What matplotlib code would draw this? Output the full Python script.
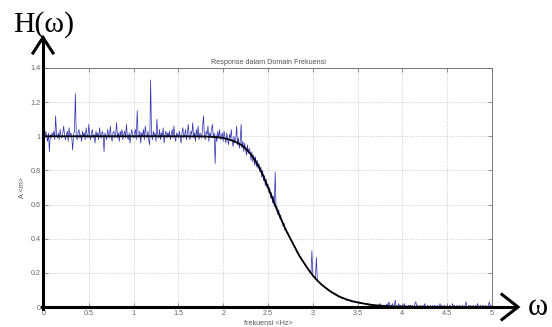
import numpy as np
import matplotlib
matplotlib.use("Agg")
import matplotlib.pyplot as plt
from matplotlib.lines import Line2D

# ---------------- data ----------------
freq_step = 0.01
noisy_amp = [
    1.01, 0.99, 1.03, 1.00, 0.97, 1.02, 0.91, 1.01, 0.99, 1.02,
    1.00, 1.03, 0.98, 1.12, 1.01, 0.99, 1.02, 0.98, 1.04, 1.00,
    0.99, 1.02, 1.06, 1.00, 0.98, 1.01, 1.03, 0.97, 1.05, 1.00,
    1.02, 0.99, 0.92, 1.01, 1.03, 1.25, 1.00, 0.98, 1.02, 1.04,
    0.99, 1.01, 0.97, 1.03, 1.00, 1.02, 0.98, 1.05, 1.01, 0.99,
    1.07, 1.00, 0.98, 1.02, 1.04, 0.99, 1.01, 0.96, 1.03, 1.00,
    1.02, 0.98, 1.05, 1.00, 0.99, 1.03, 1.01, 0.91, 1.02, 1.00,
    0.98, 1.04, 1.01, 0.99, 1.06, 1.00, 0.97, 1.02, 1.03, 0.99,
    1.01, 1.08, 0.99, 1.02, 0.97, 1.03, 1.00, 1.04, 0.98, 1.01,
    1.03, 0.99, 1.07, 1.00, 0.98, 1.02, 0.96, 1.01, 1.04, 1.00,
    0.99, 1.02, 1.04, 0.98, 1.15, 1.01, 0.99, 1.03, 0.96, 1.02,
    1.00, 1.04, 0.98, 1.06, 1.01, 0.99, 1.03, 0.97, 0.95, 1.33,
    1.01, 0.98, 1.03, 1.00, 1.02, 0.97, 1.10, 1.01, 0.99, 1.04,
    0.98, 1.02, 1.00, 1.05, 0.96, 1.01, 1.03, 0.99, 1.02, 1.00,
    1.03, 0.98, 1.01, 1.04, 0.99, 1.06, 1.00, 0.97, 1.02, 1.01,
    0.99, 1.03, 1.00, 0.96, 1.02, 1.05, 0.99, 1.01, 1.04, 0.98,
    1.02, 1.07, 1.00, 0.98, 1.03, 1.01, 1.08, 0.99, 1.02, 0.97,
    1.04, 1.00, 1.06, 0.98, 1.02, 1.01, 0.99, 1.05, 1.12, 1.00,
    0.98, 1.03, 1.01, 1.06, 0.97, 1.02, 1.00, 1.04, 1.07, 0.99,
    1.02, 0.84, 1.01, 0.97, 1.03, 0.99, 1.04, 0.98, 1.00, 1.02,
    0.97, 1.03, 0.99, 0.96, 1.02, 0.98, 0.95, 1.01, 0.99, 1.04,
    0.97, 0.94, 1.00, 0.96, 0.98, 1.06, 0.95, 0.99, 0.93, 0.97,
    1.07, 0.93, 0.97, 0.91, 0.96, 0.92, 0.89, 0.95, 0.90, 0.93,
    0.91, 0.86, 0.91, 0.85, 0.89, 0.83, 0.88, 0.82, 0.86, 0.81,
    0.84, 0.79, 0.82, 0.76, 0.80, 0.74, 0.77, 0.71, 0.75, 0.70,
    0.72, 0.67, 0.70, 0.64, 0.67, 0.61, 0.65, 0.59, 0.79, 0.58,
    0.59, 0.54, 0.57, 0.52, 0.54, 0.50, 0.51, 0.47, 0.49, 0.45,
    0.46, 0.44, 0.44, 0.42, 0.41, 0.40, 0.39, 0.38, 0.37, 0.36,
    0.35, 0.34, 0.32, 0.32, 0.31, 0.30, 0.29, 0.28, 0.27, 0.27,
    0.26, 0.25, 0.24, 0.23, 0.23, 0.22, 0.21, 0.20, 0.20, 0.33,
    0.18, 0.18, 0.17, 0.17, 0.29, 0.16, 0.15, 0.15, 0.14, 0.14,
    0.13, 0.13, 0.12, 0.12, 0.11, 0.11, 0.10, 0.10, 0.10, 0.09,
    0.09, 0.09, 0.08, 0.08, 0.08, 0.07, 0.07, 0.07, 0.06, 0.06,
    0.06, 0.06, 0.05, 0.05, 0.05, 0.05, 0.05, 0.04, 0.04, 0.04,
    0.04, 0.04, 0.04, 0.03, 0.03, 0.03, 0.03, 0.03, 0.03, 0.03,
    0.03, 0.02, 0.03, 0.02, 0.02, 0.02, 0.02, 0.02, 0.02, 0.02,
    0.02, 0.02, 0.01, 0.02, 0.01, 0.01, 0.01, 0.01, 0.01, 0.01,
    0.01, 0.01, 0.01, 0.01, 0.01, 0.02, 0.01, 0.00, 0.01, 0.01,
    0.01, 0.00, 0.01, 0.02, 0.00, 0.03, 0.01, 0.00, 0.01, 0.02,
    0.00, 0.01, 0.04, 0.00, 0.01, 0.00, 0.02, 0.00, 0.01, 0.00,
    0.01, 0.00, 0.02, 0.00, 0.01, 0.00, 0.00, 0.01, 0.00, 0.01,
    0.00, 0.01, 0.00, 0.00, 0.02, 0.03, 0.00, 0.01, 0.00, 0.00,
    0.01, 0.00, 0.00, 0.01, 0.00, 0.02, 0.00, 0.00, 0.01, 0.00,
    0.00, 0.01, 0.00, 0.00, 0.01, 0.00, 0.01, 0.00, 0.00, 0.01,
    0.00, 0.00, 0.02, 0.00, 0.01, 0.00, 0.00, 0.01, 0.00, 0.00,
    0.01, 0.00, 0.00, 0.01, 0.00, 0.00, 0.02, 0.00, 0.01, 0.00,
    0.00, 0.01, 0.00, 0.00, 0.01, 0.00, 0.00, 0.01, 0.00, 0.00,
    0.01, 0.03, 0.00, 0.00, 0.01, 0.00, 0.01, 0.00, 0.00, 0.01,
    0.00, 0.00, 0.01, 0.00, 0.02, 0.00, 0.00, 0.01, 0.00, 0.00,
    0.01, 0.00, 0.00, 0.01, 0.00, 0.00, 0.01, 0.03, 0.00, 0.01,
    0.00,
]
noisy_freq = np.arange(len(noisy_amp)) * freq_step

curve_freq = [0.0, 0.5, 1.0, 1.5, 1.8, 1.9, 1.95, 2.0, 2.05, 2.1, 2.15, 2.2,
              2.25, 2.3, 2.35, 2.4, 2.45, 2.5, 2.55, 2.6, 2.65, 2.7, 2.75,
              2.8, 2.85, 2.9, 2.95, 3.0, 3.05, 3.1, 3.15, 3.2, 3.25, 3.3,
              3.35, 3.4, 3.45, 3.5, 3.55, 3.6, 3.65, 3.7, 3.75, 3.8, 3.85,
              3.9, 3.95, 4.0, 4.2, 4.5, 5.0]
curve_amp = [1.0, 1.0, 1.0, 1.0, 0.999, 0.996, 0.994, 0.99, 0.984, 0.975,
             0.964, 0.95, 0.928, 0.90, 0.865, 0.82, 0.765, 0.70, 0.635, 0.57,
             0.51, 0.45, 0.40, 0.35, 0.30, 0.26, 0.22, 0.185, 0.155, 0.13,
             0.11, 0.09, 0.075, 0.06, 0.05, 0.04, 0.033, 0.027, 0.022, 0.017,
             0.013, 0.01, 0.008, 0.006, 0.004, 0.003, 0.002, 0.002, 0.001,
             0.0, 0.0]

x_ticks = [0, 0.5, 1, 1.5, 2, 2.5, 3, 3.5, 4, 4.5, 5]
x_tick_labels = ["0", "0.5", "1", "1.5", "2", "2.5", "3", "3.5", "4", "4.5", "5"]
y_ticks = [0, 0.2, 0.4, 0.6, 0.8, 1.0, 1.2, 1.4]
y_tick_labels = ["0", "0.2", "0.4", "0.6", "0.8", "1", "1.2", "1.4"]

title_text = "Response dalam Domain Frekuensi"
x_label = "frekuensi <Hz>"
y_label = "A <m>"

# ---------------- figure ----------------
W, H = 552, 327
fig = plt.figure(figsize=(W / 100, H / 100), dpi=100)
fig.patch.set_facecolor("white")


def fx(px):
    return px / W


def fy(py):
    return 1 - py / H


left, right, top, bottom = 44, 492, 68, 307
ax = fig.add_axes([fx(left), fy(bottom), fx(right) - fx(left), (bottom - top) / H])

small_font = dict(family=["Liberation Sans", "DejaVu Sans"], size=5.2, color="#555555")

ax.plot(noisy_freq, noisy_amp, color="#2a2ab0", lw=0.5, zorder=2)
ax.plot(curve_freq, curve_amp, color="black", lw=1.3, zorder=3)

ax.set_xlim(0, 5)
ax.set_ylim(0, 1.4)
ax.set_xticks(x_ticks)
ax.set_xticklabels(x_tick_labels, fontdict=small_font)
ax.set_yticks(y_ticks)
ax.set_yticklabels(y_tick_labels, fontdict=small_font)
ax.tick_params(direction="in", length=3, width=0.5, colors="#666666",
               top=True, right=True, pad=2.5)
ax.grid(True, linestyle=(0, (1, 1.5)), color="#b5b5b5", lw=0.5)
for s in ax.spines.values():
    s.set_color("#666666")
    s.set_linewidth(0.6)

ax.set_title(title_text, fontdict=small_font, pad=3)
ax.set_xlabel(x_label, fontdict=small_font, labelpad=2)
ax.set_ylabel(y_label, fontdict=small_font, labelpad=3)

# ---------------- hand-drawn axis arrows overlay ----------------
lw_arrow = 2.2
fig.add_artist(Line2D([fx(43), fx(43)], [fy(309), fy(38)], color="black",
                      lw=lw_arrow, transform=fig.transFigure, zorder=10))
fig.add_artist(Line2D([fx(33), fx(43), fx(53)], [fy(53), fy(37.5), fy(53)],
                      color="black", lw=lw_arrow, transform=fig.transFigure,
                      zorder=10, solid_joinstyle="miter"))
fig.add_artist(Line2D([fx(41.5), fx(516)], [fy(307), fy(307)], color="black",
                      lw=lw_arrow, transform=fig.transFigure, zorder=10))
fig.add_artist(Line2D([fx(502), fx(518), fx(502)], [fy(294.5), fy(307), fy(319.5)],
                      color="black", lw=lw_arrow, transform=fig.transFigure,
                      zorder=10, solid_joinstyle="miter"))

serif = ["Liberation Serif", "DejaVu Serif"]
fig.text(fx(13), fy(32), "H(\u03c9)", family=serif, size=21.5, color="black",
         ha="left", va="baseline")
fig.text(fx(528), fy(315), "\u03c9", family=serif, size=22, color="black",
         ha="left", va="baseline")

fig.savefig("out.png", dpi=100, facecolor="white")
